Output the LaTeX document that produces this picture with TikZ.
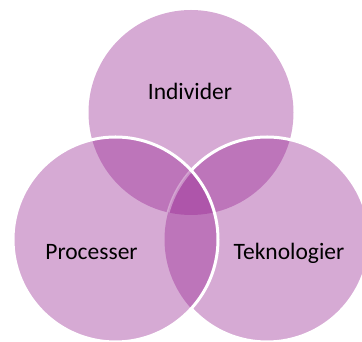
\documentclass[tikz,border=0pt]{standalone}
\usepackage{fontspec}
\setmainfont{Carlito}
\definecolor{vennfill}{RGB}{150,35,145}
\begin{document}
\begin{tikzpicture}[x=1pt,y=1pt,
  petal/.style={fill=vennfill,fill opacity=0.39,draw=none},
  rim/.style={draw=white,line width=3pt},
  label/.style={font=\fontsize{23.5}{28}\selectfont,text=black,anchor=base}]
\useasboundingbox (0,0) rectangle (362,342);
% circle centres
\coordinate (ct) at (191,229.5);
\coordinate (cl) at (115.5,102.5);
\coordinate (cr) at (267,102.5);
\def\rad{102.5}
% translucent discs
\fill[petal] (ct) circle (\rad);
\fill[petal] (cr) circle (\rad);
\fill[petal] (cl) circle (\rad);
% white rim of the right disc, outside the left disc
\begin{scope}
  \clip (-10,-10) rectangle (372,352) (cl) circle (\rad);
  \draw[rim] (cr) circle (\rad);
\end{scope}
% faint rim of the right disc inside the central region
\begin{scope}
  \clip (ct) circle (\rad);
  \clip (cl) circle (\rad);
  \draw[draw=white,line width=3pt,draw opacity=0.35] (cr) circle (\rad);
\end{scope}
% white rim of the left disc
\draw[rim] (cl) circle (\rad);
% labels
\node[label] (individer) at (190,242.5) {Individer};
\node[label] (processer) at (91.5,82) {Processer};
\node[label] (teknologier) at (289,82) {Teknologier};
\end{tikzpicture}
\end{document}
